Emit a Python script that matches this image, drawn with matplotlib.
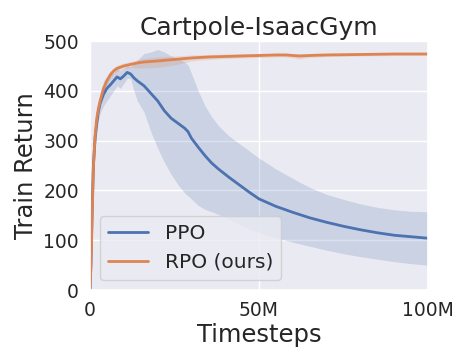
import matplotlib
matplotlib.use("Agg")
import matplotlib.pyplot as plt
import matplotlib.ticker as mticker
import numpy as np
import seaborn as sns

# timesteps in millions
ppo_t = [0, 0.3, 0.6, 1, 1.5, 2, 2.5, 3, 4, 5, 6, 7, 8, 9, 10, 11, 12, 13, 14, 16, 18, 20,
         22, 24, 26, 28, 29, 30, 32, 34, 36, 38, 41, 44, 47, 50, 55, 60, 65, 70, 75, 80,
         85, 90, 95, 100]
ppo_mean = [0, 60, 150, 250, 305, 335, 360, 375, 393, 405, 412, 420, 428, 424, 430, 437,
            434, 426, 420, 410, 395, 380, 360, 345, 335, 325, 318, 305, 287, 270, 255, 243,
            227, 212, 197, 183, 168, 156, 145, 136, 128, 121, 115, 110, 107, 104]
ppo_hi = [0, 80, 180, 270, 330, 350, 372, 390, 420, 430, 440, 435, 445, 440, 445, 450,
          448, 455, 462, 475, 478, 483, 478, 470, 465, 458, 452, 435, 400, 370, 348, 330,
          310, 295, 280, 265, 243, 224, 206, 192, 182, 173, 166, 161, 158, 157]
ppo_lo = [0, 40, 120, 220, 280, 315, 340, 355, 370, 380, 390, 400, 410, 405, 415, 425,
          425, 400, 380, 357, 318, 285, 257, 232, 212, 195, 189, 183, 170, 162, 157, 152,
          143, 133, 123, 115, 105, 96, 88, 80, 73, 67, 62, 57, 53, 50]

rpo_t = [0, 0.3, 0.6, 1, 1.5, 2, 2.5, 3, 4, 5, 6, 7, 8, 10, 12, 14, 16, 20, 25, 30, 35,
         40, 45, 50, 55, 58, 60, 62, 65, 70, 80, 90, 100]
rpo_mean = [0, 50, 140, 245, 310, 345, 365, 380, 405, 420, 432, 440, 445, 450, 453, 456,
            458, 460, 463, 466, 468, 469, 470, 471, 472, 472, 471, 470, 471, 472, 473, 474,
            474]
rpo_lo = [0, 30, 110, 220, 290, 330, 352, 368, 395, 412, 425, 433, 439, 444, 447, 446,
          446, 447, 452, 460, 463, 465, 466, 467, 468, 468, 466, 464, 467, 469, 470, 471,
          471]
rpo_hi = [0, 70, 170, 270, 330, 360, 378, 392, 415, 428, 439, 447, 451, 456, 459, 462,
          465, 468, 470, 472, 473, 474, 475, 475, 476, 476, 475, 474, 475, 476, 477, 477,
          477]

sns.set_theme(style="darkgrid")
plt.rcParams['font.family'] = ['DejaVu Sans']

blue = "#4C72B0"
orange = "#DD8452"

fig = plt.figure(figsize=(4.7, 3.6), dpi=100)
ax = fig.add_axes([0.1915, 0.1944, 0.7191, 0.6916])

for t, m, lo, hi, c, lab in [
    (ppo_t, ppo_mean, ppo_lo, ppo_hi, blue, "PPO"),
    (rpo_t, rpo_mean, rpo_lo, rpo_hi, orange, "RPO (ours)"),
]:
    x = np.array(t) * 1e6
    ax.plot(x, m, color=c, lw=2, label=lab)
    ax.fill_between(x, lo, hi, color=c, alpha=0.2, lw=0)

ax.set_xlim(0, 100e6)
ax.set_ylim(0, 500)
ax.set_xticks([0, 50e6, 100e6])
ax.xaxis.set_major_formatter(mticker.FuncFormatter(
    lambda v, p: "0" if v == 0 else "%dM" % round(v / 1e6)))
ax.set_yticks([0, 100, 200, 300, 400, 500])
ax.tick_params(labelsize=13.5, pad=2)
ax.set_xlabel("Timesteps", fontsize=17.5, labelpad=2)
ax.set_ylabel("Train Return", fontsize=17.5, labelpad=4)
ax.set_title("Cartpole-IsaacGym", fontsize=18, pad=4)
ax.legend(loc="lower left", fontsize=14.5)

fig.savefig("out.png", dpi=100)
